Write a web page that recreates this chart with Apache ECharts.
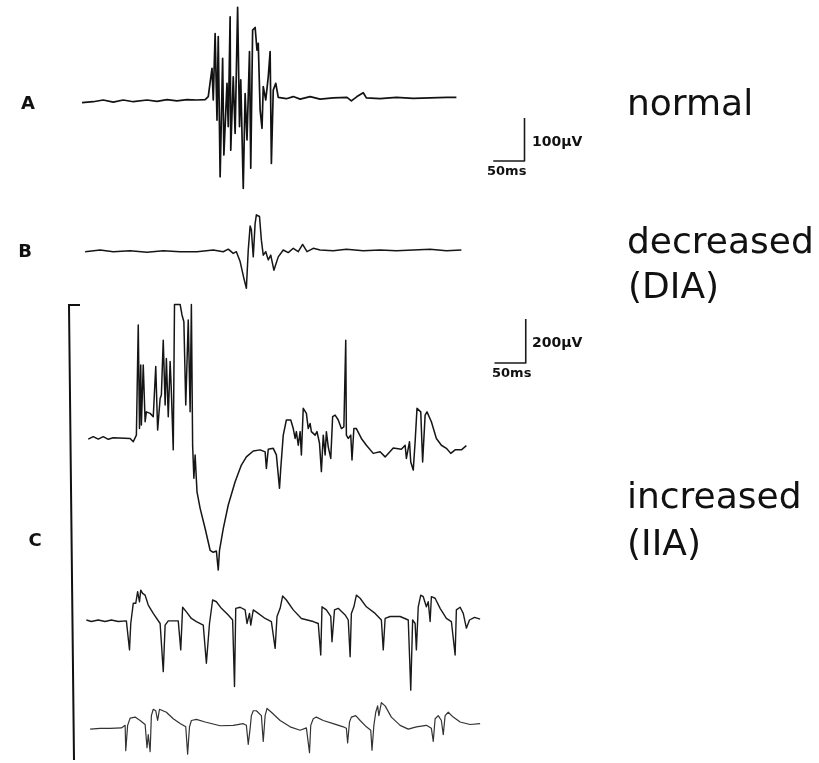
<!DOCTYPE html>
<html>
<head>
<meta charset="utf-8">
<script src="https://cdn.jsdelivr.net/npm/echarts@6/dist/echarts.min.js"></script>
<style>
html,body{margin:0;padding:0;background:#fff;}
#chart{width:819px;height:763px;}
</style>
</head>
<body>
<div id="chart"></div>
<script>
// Time in ms, amplitude in µV
const traceA = [[0,-6],[18,-4],[34,0],[50,-5],[66,0],[82,-4],[104,0],[120,-3],[136,1],[152,-2],[168,1],[184,0],[197,1],[202,8],[208,74],[210,0],[213,155],[216,-47],[218,148],[221,-179],[225,97],[227,-128],[232,39],[234,-62],[237,194],[238,-117],[242,54],[245,-78],[249,216],[252,-62],[254,47],[258,-206],[261,15],[264,-93],[268,113],[270,-159],[273,163],[277,169],[280,116],[282,132],[285,-23],[288,-66],[290,31],[294,0],[298,54],[301,113],[303,-148],[306,23],[310,39],[314,6],[327,3],[338,8],[349,2],[365,8],[381,2],[402,5],[424,6],[431,-2],[440,8],[450,17],[455,5],[477,3],[503,6],[530,4],[557,5],[584,6],[599,6]];

const traceB = [[5,-4],[29,0],[50,-4],[77,-2],[104,-5],[130,-2],[157,-4],[184,-4],[210,0],[226,-4],[234,2],[242,-8],[247,-4],[253,-27],[259,-66],[263,-89],[266,0],[269,56],[271,47],[274,-16],[277,62],[279,82],[284,78],[287,23],[290,-12],[294,-4],[298,-23],[302,-12],[307,-47],[314,-16],[322,0],[330,-6],[338,4],[346,-4],[353,13],[360,-4],[370,4],[381,0],[402,-2],[423,2],[450,-2],[477,0],[503,-2],[530,0],[557,2],[583,-2],[607,0]];

const traceC1 = [[10,-5],[18,6],[26,-5],[34,6],[42,-6],[50,1],[77,-2],[82,-17],[87,13],[90,514],[92,43],[94,332],[95,59],[98,332],[101,74],[103,119],[109,112],[114,97],[118,325],[121,36],[125,180],[127,196],[130,445],[133,150],[135,362],[138,97],[141,348],[143,210],[146,-54],[148,608],[157,608],[160,560],[163,529],[166,150],[170,537],[173,119],[175,608],[177,-33],[179,-183],[181,-77],[184,-245],[189,-320],[197,-412],[205,-511],[210,-520],[215,-514],[218,-601],[220,-511],[226,-412],[234,-305],[245,-199],[255,-123],[263,-86],[274,-59],[285,-54],[293,-63],[295,-139],[298,-51],[306,-47],[311,-77],[316,-229],[318,-139],[322,13],[327,82],[334,82],[338,43],[341,-2],[343,29],[346,-33],[349,29],[351,-77],[354,135],[359,112],[362,43],[365,66],[367,29],[373,13],[376,29],[380,-24],[383,-153],[386,13],[389,-77],[391,29],[394,-40],[398,-93],[401,97],[405,104],[410,82],[415,43],[419,51],[422,445],[423,13],[426,-2],[430,13],[432,-100],[435,43],[439,43],[447,-2],[455,-33],[466,-70],[477,-63],[485,-86],[498,-45],[511,-51],[517,-33],[519,-93],[524,-17],[526,-109],[530,-146],[533,-17],[536,135],[542,119],[545,-109],[549,104],[552,119],[559,74],[567,-2],[575,-33],[583,-47],[590,-70],[597,-54],[607,-54],[615,-35]];

const traceC2 = [[7,0],[15,-7],[26,0],[37,-7],[47,0],[58,-7],[71,-4],[76,-136],[78,-16],[82,76],[86,76],[89,129],[92,83],[94,136],[97,121],[101,113],[106,68],[114,30],[125,-16],[130,-235],[133,-23],[138,-4],[154,-4],[158,-136],[161,58],[167,37],[175,7],[183,-7],[194,-23],[199,-197],[204,-16],[209,91],[215,83],[223,53],[234,23],[241,0],[244,-303],[246,53],[253,58],[261,46],[264,-16],[268,30],[270,-23],[274,46],[282,30],[293,7],[303,-7],[309,-129],[312,16],[317,53],[321,109],[327,91],[338,46],[351,7],[370,-7],[378,-16],[382,-159],[384,60],[391,46],[398,16],[400,-99],[404,46],[410,53],[421,23],[426,0],[429,-167],[431,30],[435,60],[439,113],[445,99],[455,60],[469,30],[479,0],[482,-136],[485,7],[493,16],[509,16],[522,0],[526,-319],[529,0],[533,-16],[535,-136],[538,60],[542,113],[546,106],[551,60],[554,83],[557,-7],[559,106],[565,99],[573,53],[583,7],[591,-7],[597,-159],[599,46],[605,58],[610,30],[615,-37],[620,0],[628,12],[637,4]];

const traceC3 = [[13,-22],[29,-18],[45,-18],[63,-16],[69,-4],[70,-124],[73,-4],[77,30],[85,35],[93,19],[101,0],[104,-110],[106,-48],[109,-128],[111,42],[114,72],[118,65],[121,19],[124,72],[127,76],[135,58],[146,27],[157,5],[166,-11],[169,-140],[172,-11],[175,19],[183,24],[197,12],[221,-6],[242,-4],[258,4],[263,-4],[266,-94],[269,-18],[271,42],[274,65],[279,65],[287,42],[290,-80],[293,42],[296,76],[303,58],[317,19],[333,-11],[349,-27],[359,-16],[364,-133],[366,-4],[370,27],[375,35],[386,19],[402,4],[418,-11],[423,-18],[425,-87],[428,12],[431,35],[438,42],[445,19],[455,-11],[462,-27],[464,-122],[467,-4],[470,58],[473,88],[475,42],[479,103],[485,88],[495,35],[509,-4],[522,-22],[535,-11],[551,-4],[559,-18],[562,-80],[565,27],[570,42],[575,19],[578,-48],[581,42],[586,58],[594,35],[605,12],[621,0],[637,4]];

// Calibration bars: [time start ms, amplitude start µV, 50 ms, amplitude µV]
const scaleBarAB = {t0: 658, v0: -142, dt: 50, dv: 100};
const scaleBarC  = {t0: 660, v0: 341, dt: 50, dv: 200};

const rowLabels = ['A', 'B', 'C'];
const stateLabels = [['normal'], ['decreased', '(DIA)'], ['increased', '(IIA)']];
const scaleTexts = ['100µV', '50ms', '200µV', '50ms'];

const chart = echarts.init(document.getElementById('chart'), null, {renderer: 'canvas'});

// grids: [top, height, yHalfRange]
const gridDefs = [
  [0, 200, 233],     // A
  [150, 200, 233],   // B
  [300, 276, 628],   // C1
  [540, 160, 364],   // C2
  [686, 80, 182]     // C3
];
const grids = gridDefs.map(g => ({left: 82, width: 500, top: g[0], height: g[1], show: false}));
const xAxes = gridDefs.map((g, i) => ({type: 'value', gridIndex: i, min: 0, max: 800, show: false}));
const yAxes = gridDefs.map((g, i) => ({type: 'value', gridIndex: i, min: -g[2], max: g[2], show: false}));

function trace(data, gi, color, w) {
  return {
    type: 'line', xAxisIndex: gi, yAxisIndex: gi, data: data,
    symbol: 'none', showSymbol: false, clip: false, silent: true,
    lineStyle: {color: color, width: w, join: 'round'}, animation: false
  };
}
function bar(sb, gi) {
  return trace([[sb.t0, sb.v0], [sb.t0 + sb.dt, sb.v0], [sb.t0 + sb.dt, sb.v0 + sb.dv]], gi, '#1a1a1a', 1.6);
}

const FF = '"DejaVu Sans", sans-serif';
function txt(x, y, text, size, weight, align) {
  return {type: 'text', x: x, y: y, silent: true,
    style: {text: text, fill: '#111', fontSize: size, fontFamily: FF, fontWeight: weight || 'normal',
      textAlign: align || 'left', verticalAlign: 'middle'}};
}

const graphic = [
  txt(28, 104, rowLabels[0], 18, 'bold', 'center'),
  txt(25, 252, rowLabels[1], 18, 'bold', 'center'),
  txt(35, 541, rowLabels[2], 18, 'bold', 'center'),
  txt(627, 106, stateLabels[0][0], 36),
  txt(627, 244, stateLabels[1][0], 36),
  txt(628, 289, stateLabels[1][1], 36),
  txt(627, 499, stateLabels[2][0], 36),
  txt(627, 546, stateLabels[2][1], 36),
  txt(532, 142, scaleTexts[0], 14, 'bold'),
  txt(487, 172, scaleTexts[1], 13, 'bold'),
  txt(532, 343, scaleTexts[2], 14, 'bold'),
  txt(492, 374, scaleTexts[3], 13, 'bold'),
  {type: 'polyline', silent: true, shape: {points: [[80, 305], [69, 305], [74, 760]]},
   style: {stroke: '#111', lineWidth: 2, fill: null}}
];

chart.setOption({
  animation: false,
  backgroundColor: '#fff',
  grid: grids,
  xAxis: xAxes,
  yAxis: yAxes,
  graphic: graphic,
  series: [
    trace(traceA, 0, '#121212', 1.7),
    trace(traceB, 1, '#151515', 1.5),
    trace(traceC1, 2, '#151515', 1.5),
    trace(traceC2, 3, '#1a1a1a', 1.4),
    trace(traceC3, 4, '#333', 1.2),
    bar(scaleBarAB, 0),
    bar(scaleBarC, 2)
  ]
});
</script>
</body>
</html>
